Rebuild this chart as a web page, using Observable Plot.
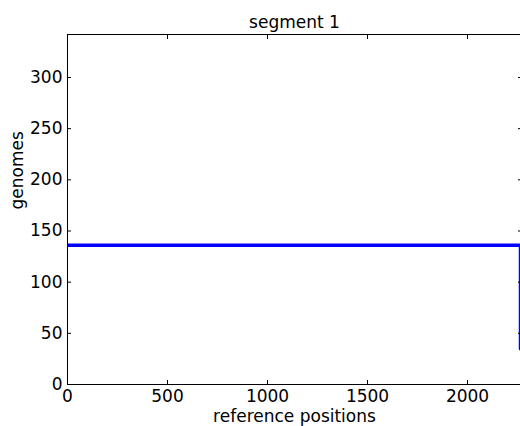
<!DOCTYPE html>
<html><head><meta charset="utf-8">
<script src="https://cdn.jsdelivr.net/npm/d3@7"></script>
<script src="https://cdn.jsdelivr.net/npm/@observablehq/plot@0.6"></script>
<style>html,body{margin:0;padding:0;overflow:hidden;background:#fff;width:520px;height:426px}</style>
</head><body><div id="chart"></div>
<script>
const title = "segment 1";
const xLabel = "reference positions";
const yLabel = "genomes";
const positions = [0, 2265, 2265];
const genomes = [136, 136, 35];
const xTicks = [0, 500, 1000, 1500, 2000];
const yTicks = [0, 50, 100, 150, 200, 250, 300];
const xDomain = [0, 2270];
const yDomain = [0, 342];
const data = positions.map((p, i) => ({p, g: genomes[i]}));
const blank = () => "";
const plain = d => String(d);
const chart = Plot.plot({
  width: 522, height: 426,
  marginTop: 34, marginBottom: 42, marginLeft: 67, marginRight: 1,
  style: {fontFamily: "'DejaVu Sans', sans-serif", fontSize: "17px", background: "white", color: "black", overflow: "visible", maxWidth: "none"},
  x: {domain: xDomain, ticks: xTicks},
  y: {domain: yDomain, ticks: yTicks},
  marks: [
    Plot.line(data, {x: "p", y: "g", stroke: "#0000ff", strokeWidth: 3.5, clip: true}),
    Plot.frame({stroke: "black"}),
    Plot.axisX(xTicks, {anchor: "bottom", tickSize: 4, dy: -4, tickFormat: blank, label: null}),
    Plot.axisX(xTicks, {anchor: "top", tickSize: 4, dy: 4, tickFormat: blank, label: null}),
    Plot.axisY(yTicks, {anchor: "left", tickSize: 4, dx: 4, tickFormat: blank, label: null}),
    Plot.axisY(yTicks, {anchor: "right", tickSize: 4, dx: -4, tickFormat: blank, label: null}),
    Plot.axisX(xTicks, {anchor: "bottom", tickSize: 0, tickPadding: 5, label: null, fontSize: 17, tickFormat: plain}),
    Plot.axisY(yTicks, {anchor: "left", tickSize: 0, tickPadding: 5, label: null, fontSize: 17, tickFormat: plain}),
    Plot.text([title], {frameAnchor: "top", lineAnchor: "bottom", dy: -7, text: d => d, fontSize: 17}),
    Plot.text([xLabel], {frameAnchor: "bottom", lineAnchor: "bottom", dy: 37, text: d => d, fontSize: 17}),
    Plot.text([yLabel], {frameAnchor: "left", rotate: -90, dx: -50, text: d => d, fontSize: 17})
  ]
});
document.getElementById("chart").appendChild(chart);
</script>
</body></html>
